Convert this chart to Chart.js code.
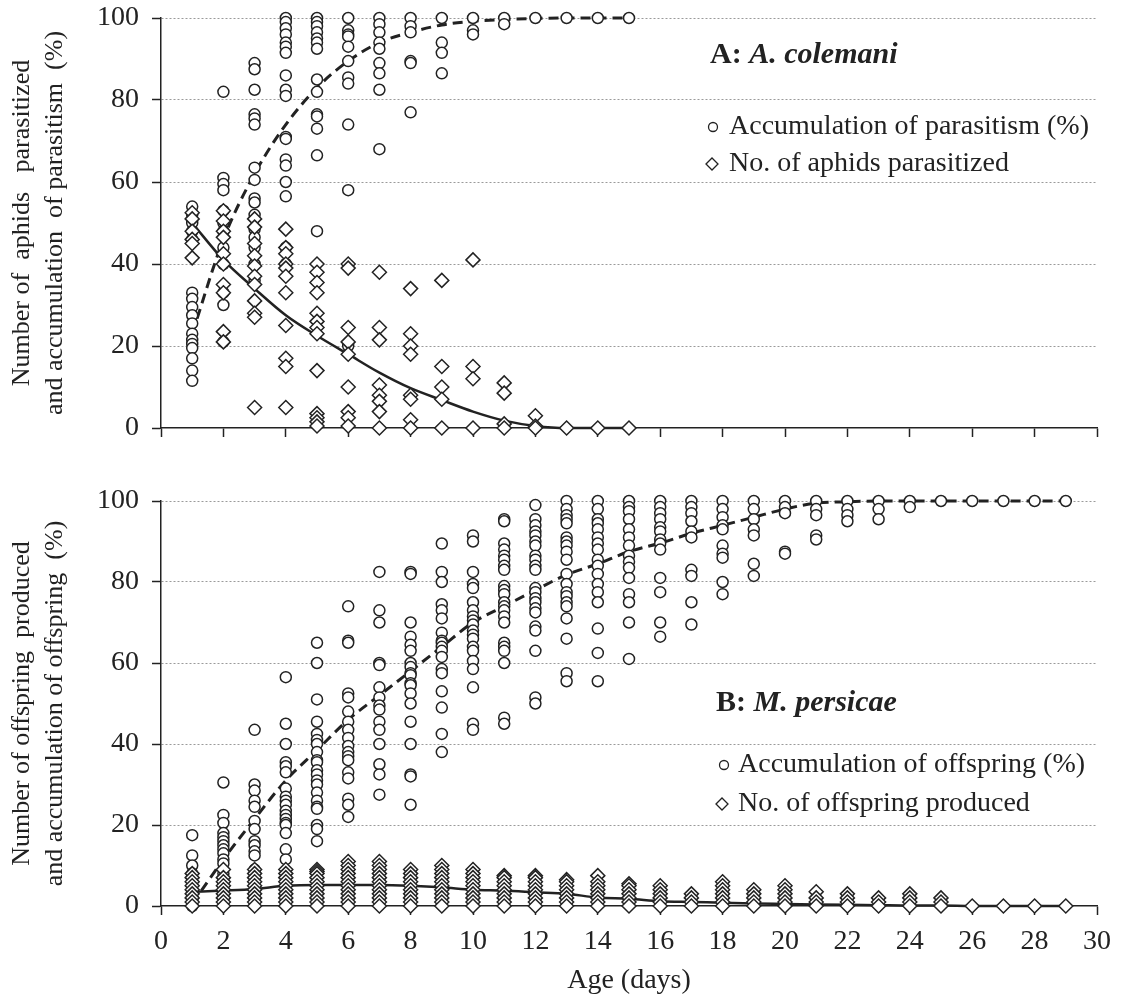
<!DOCTYPE html>
<html>
<head>
<meta charset="utf-8">
<script src="https://cdn.jsdelivr.net/npm/chart.js@4"></script>
<style>
  body { margin: 0; background: #fff; }
  .wrap { position: relative; width: 1124px; height: 998px; }
  canvas { position: absolute; left: 0; }
  #chartA { top: 0; }
  #chartB { top: 460px; }
</style>
</head>
<body>
<div class="wrap">
  <canvas id="chartA" width="1124" height="460"></canvas>
  <canvas id="chartB" width="1124" height="538"></canvas>
</div>
<script>
// panel A: A. colemani
const daysA = [1, 2, 3, 4, 5, 6, 7, 8, 9, 10, 11, 12, 13, 14, 15];
const parasitismPct = [
  [54, 52, 50, 48, 46, 33, 31.5, 29.5, 27.5, 25.5, 23, 21.5, 20.5, 19.5, 17, 14, 11.5],
  [82, 61, 59.5, 58, 53, 50, 48, 44, 40, 33, 30, 21],
  [89, 87.5, 82.5, 76.5, 75.5, 74, 63.5, 60.5, 56, 55, 52, 48.5, 46.5, 44, 40, 36],
  [100, 99, 97.5, 96, 94, 93, 91.5, 86, 82.5, 81, 71, 70.5, 65.5, 64, 60, 56.5, 44, 40],
  [100, 99, 98, 96.5, 95, 94, 92.5, 85, 82, 76.5, 76, 73, 66.5, 48],
  [100, 97, 96, 95.5, 93, 89.5, 85.5, 84, 74, 58, 20],
  [100, 98.5, 96.5, 94, 92.5, 89, 86.5, 82.5, 68],
  [100, 98, 96.5, 89.5, 89, 77],
  [100, 94, 91.5, 86.5],
  [100, 97, 96],
  [100, 98.5],
  [100], [100], [100], [100]
];
const aphidsParasitized = [
  [52.5, 51, 48, 46, 45, 41.5],
  [53, 50.5, 48, 46.5, 42.5, 40, 35, 33, 23.5, 21],
  [51, 49, 45, 42, 39.5, 37, 35, 31, 28, 27, 5],
  [48.5, 44, 42.5, 40, 39, 37, 33, 25, 17, 15, 5],
  [40, 38, 35.5, 33, 28, 26, 24.5, 23, 14, 3.5, 2.5, 1.5, 0.5],
  [40, 39, 24.5, 21, 18, 10, 4, 2.5, 0.5],
  [38, 24.5, 21.5, 10.5, 8, 6.5, 4, 0],
  [34, 23, 20, 18, 8, 7, 2, 0],
  [36, 15, 10, 7, 0],
  [41, 15, 12, 0],
  [11, 8.5, 1, 0],
  [3, 0.5, 0],
  [0], [0], [0]
];
const parasitismFit = [23, 46, 62, 74, 83, 89.5, 94, 96.5, 98.3, 99.2, 99.6, 99.9, 100, 100, 100];
const parasitizedFit = [50, 41, 34, 27.5, 22.5, 18, 13.5, 9.7, 6.8, 4, 1.8, 0.5, 0, 0, 0];

// panel B: M. persicae
const daysB = [1, 2, 3, 4, 5, 6, 7, 8, 9, 10, 11, 12, 13, 14, 15, 16, 17, 18, 19, 20, 21, 22, 23, 24, 25, 26, 27, 28, 29];
const offspringPct = [
  [17.5, 12.5, 10, 8, 6, 5, 3.5, 1.5, 0],
  [30.5, 22.5, 20.5, 18, 17, 16, 15, 14, 13, 11.5, 10.5, 8, 6],
  [43.5, 30, 28.5, 26, 24.5, 21, 19, 16, 15, 13.5, 12.5, 9],
  [56.5, 45, 40, 35.5, 34.5, 33, 29, 27, 26, 25, 23.5, 22.5, 21.5, 20.5, 20, 18, 14, 11.5],
  [65, 60, 51, 45.5, 42.5, 41, 40, 38, 36, 35.5, 33.5, 32.5, 31, 30, 28, 26, 24.5, 24, 20, 19, 16],
  [74, 65.5, 65, 52.5, 51.5, 48, 45.5, 43.5, 41.5, 39.5, 38, 37, 36, 33, 31.5, 26.5, 25, 22],
  [82.5, 73, 70, 60, 59.5, 54, 51.5, 49.5, 48.5, 45.5, 43.5, 40, 35, 32.5, 27.5],
  [82.5, 82, 70, 66.5, 64.5, 63, 60, 59, 57.5, 57, 55, 54.5, 52.5, 50, 45.5, 40, 32.5, 32, 25],
  [89.5, 82.5, 80, 74.5, 73, 71, 67.5, 65.5, 65, 64, 63, 61.5, 58.5, 57.5, 53, 49, 42.5, 38],
  [91.5, 90, 82.5, 79.5, 78.5, 75, 73, 71.5, 70.5, 69.5, 68, 67, 66, 64, 63, 60.5, 58.5, 54, 45, 43.5],
  [95.5, 95, 89.5, 88, 86.5, 85.5, 84, 83, 79, 78, 77, 75, 74, 73, 71.5, 70, 65, 64, 63, 60, 46.5, 45],
  [99, 95.5, 94, 92.5, 91.5, 90, 89, 86.5, 85.5, 84, 83, 78.5, 77.5, 76, 75, 73.5, 72.5, 69, 68, 63, 51.5, 50],
  [100, 98, 96.5, 95.5, 94.5, 91, 90, 89, 87.5, 85.5, 82, 79.5, 77.5, 76.5, 75, 74, 71, 66, 57.5, 55.5],
  [100, 98, 95.5, 94.5, 93, 91, 89.5, 88, 85.5, 84, 82, 79.5, 77.5, 75, 68.5, 62.5, 55.5],
  [100, 98.5, 97.5, 95.5, 93, 91, 89, 86.5, 85, 83.5, 81, 77, 75, 70, 61],
  [100, 98.5, 97, 95.5, 93.5, 92.5, 90.5, 89.5, 88, 81, 77.5, 70, 66.5],
  [100, 98.5, 97, 95, 92.5, 91, 83, 81.5, 75, 69.5],
  [100, 98, 96, 94, 93, 89, 87, 86, 80, 77],
  [100, 98, 95.5, 93, 91.5, 84.5, 81.5],
  [100, 98.5, 97, 87.5, 87],
  [100, 98, 96.5, 91.5, 90.5],
  [100, 98, 96.5, 95],
  [100, 98, 95.5],
  [100, 98.5],
  [100], [100], [100], [100], [100]
];
const offspringNo = [
  [8, 7, 6, 5, 4, 3, 2, 1, 0],
  [9, 7, 6, 5, 4, 3, 2, 1, 0],
  [9, 8, 7, 6, 5, 4, 3, 2, 1, 0],
  [9, 8, 7, 6, 5, 4, 3, 2, 1, 0],
  [9, 8.5, 8, 7, 6, 5, 4, 3, 2, 1, 0],
  [11, 10, 9, 8, 7, 6, 5, 4, 3, 2, 1, 0],
  [11, 10, 9, 8, 7, 6, 5, 4, 3, 2, 1, 0],
  [9, 8, 7, 6, 5, 4, 3, 2, 1, 0],
  [10, 9, 8, 7, 6, 5, 4, 3, 2, 1, 0],
  [9, 8, 7, 6, 5, 4, 3, 2, 1, 0],
  [7.5, 7, 6, 5, 4, 3, 2, 1, 0],
  [7.5, 7, 6, 5, 4, 3, 2, 1, 0],
  [6.5, 6, 5, 4, 3, 2, 1, 0],
  [7.5, 6, 5, 4, 3, 2, 1, 0],
  [5.5, 5, 4, 3, 2, 1, 0],
  [5, 4, 3, 2, 1, 0],
  [3, 2, 1, 0],
  [6, 5, 4, 3, 2, 1, 0],
  [4, 3, 2, 1, 0],
  [5, 4, 3, 2, 1, 0],
  [3.5, 2, 1, 0],
  [3, 2, 1, 0],
  [2, 1, 0],
  [3, 2, 1, 0],
  [2, 1, 0],
  [0], [0], [0], [0]
];
const offspringPctFit = [0.5, 11.5, 21.5, 31, 38.5, 46, 52, 58, 64, 70, 74, 78, 81.8, 84.5, 87.5, 89.6, 92, 94, 96, 98, 99.5, 99.8, 100, 100, 100, 100, 100, 100, 100];
const offspringNoFit = [3.5, 3.8, 4.2, 5, 5.2, 5.2, 5.2, 5, 4.6, 4, 3.8, 3.4, 3, 2.1, 1.8, 1.2, 1, 0.8, 0.6, 0.5, 0.4, 0.3, 0.2, 0.1, 0.1, 0, 0, 0, 0];

const namesA = ['Accumulation of parasitism (%)', 'No. of aphids parasitized'];
const namesB = ['Accumulation of offspring (%)', 'No. of offspring produced'];

const ink = '#222';
const serif = "'Liberation Serif', 'Times New Roman', serif";
Chart.defaults.font.family = serif;
Chart.defaults.color = ink;

const toPoints = (days, lists) => days.flatMap((d, i) => lists[i].map(v => ({x: d, y: v})));
const toCurve = (days, vals) => days.map((d, i) => ({x: d, y: vals[i]}));

const markerSet = (label, data, style, radius, order) => ({
    label: label,
    data: data,
    order: order,
    clip: false,
    showLine: false,
    pointStyle: style,
    pointRadius: radius,
    pointHoverRadius: radius,
    pointBorderWidth: 1.5,
    pointBorderColor: ink,
    pointBackgroundColor: '#fff'
});

const curveSet = (data, dash, width, order) => ({
    data: data,
    order: order,
    clip: false,
    showLine: true,
    pointRadius: 0,
    borderColor: ink,
    borderWidth: width,
    borderDash: dash,
    cubicInterpolationMode: 'monotone',
    fill: false
});

// panel tag + hand-drawn legend inside the plot
const panelText = (tag, species, x, y, rows) => ({
    id: 'panelText',
    afterDraw(chart) {
        const ctx = chart.ctx;
        ctx.save();
        ctx.fillStyle = ink;
        ctx.strokeStyle = ink;
        ctx.textBaseline = 'middle';
        ctx.font = `bold 30px ${serif}`;
        ctx.fillText(tag, x, y);
        const w = ctx.measureText(tag).width;
        ctx.font = `italic bold 30px ${serif}`;
        ctx.fillText(species, x + w, y);
        ctx.font = `28px ${serif}`;
        ctx.lineWidth = 1.3;
        rows.forEach(r => {
            ctx.beginPath();
            if (r.marker === 'circle') {
                ctx.arc(r.mx, r.y, 4.5, 0, Math.PI * 2);
            } else {
                ctx.moveTo(r.mx - 6, r.y);
                ctx.lineTo(r.mx, r.y - 6);
                ctx.lineTo(r.mx + 6, r.y);
                ctx.lineTo(r.mx, r.y + 6);
                ctx.closePath();
            }
            ctx.stroke();
            ctx.fillText(r.text, r.tx, r.y);
        });
        ctx.restore();
    }
});

const buildScales = (yTitle, showX, xHeight) => ({
    x: {
        type: 'linear', min: 0, max: 30,
        ticks: { stepSize: 2, display: showX, padding: 10, font: { size: 28 }, color: ink, maxRotation: 0, autoSkip: false },
        grid: { drawOnChartArea: false, tickLength: 9, tickWidth: 1.5, tickColor: ink },
        border: { color: ink, width: 1.5 },
        title: { display: showX, text: 'Age (days)', font: { size: 28 }, color: ink, padding: { top: 0, bottom: 1 } },
        afterFit: s => { s.height = xHeight; }
    },
    y: {
        min: 0, max: 100,
        ticks: { stepSize: 20, padding: 13, font: { size: 28 }, color: ink },
        grid: {
            color: c => (c.tick && c.tick.value === 0) ? 'rgba(0,0,0,0)' : '#9a9a9a',
            lineWidth: 1, tickLength: 9, tickWidth: 1.5, tickColor: ink
        },
        border: { color: ink, width: 1.5, dash: [2, 2] },
        title: { display: true, text: yTitle, font: { size: 26, lineHeight: 1.27 }, color: ink, padding: { top: 5.5, bottom: 0 } },
        afterFit: s => { s.width = 161; s.paddingTop = 0; s.paddingBottom = 0; }
    }
});

const createChart = (canvas, datasets, scales, padTop, plugin) => new Chart(
    document.getElementById(canvas),
    {
        type: 'scatter',
        data: { datasets: datasets },
        options: {
            responsive: false,
            animation: false,
            events: [],
            layout: { padding: { top: padTop, right: 27, bottom: 0, left: 0 } },
            plugins: { legend: { display: false }, tooltip: { enabled: false } },
            scales: scales
        },
        plugins: [plugin]
    }
);

createChart('chartA', [
    markerSet(namesA[1], toPoints(daysA, aphidsParasitized), 'rectRot', 7, 0),
    markerSet(namesA[0], toPoints(daysA, parasitismPct), 'circle', 5.5, 1),
    curveSet(toCurve(daysA, parasitizedFit), [], 2.5, 2),
    curveSet(toCurve(daysA, parasitismFit), [10, 6], 3, 3)
], buildScales(['Number of  aphids   parasitized', 'and accumulation  of parasitism  (%)'], false, 32), 18,
panelText('A: ', 'A. colemani', 710, 55, [
    { marker: 'circle', mx: 713, tx: 729, y: 127, text: namesA[0] },
    { marker: 'diamond', mx: 712, tx: 729, y: 164, text: namesA[1] }
]));

createChart('chartB', [
    markerSet(namesB[1], toPoints(daysB, offspringNo), 'rectRot', 7, 0),
    markerSet(namesB[0], toPoints(daysB, offspringPct), 'circle', 5.5, 1),
    curveSet(toCurve(daysB, offspringNoFit), [], 2.5, 2),
    curveSet(toCurve(daysB, offspringPctFit), [10, 6], 3, 3)
], buildScales(['Number of offspring  produced', 'and accumulation of offspring  (%)'], true, 92), 41,
panelText('B: ', 'M. persicae', 716, 243, [
    { marker: 'circle', mx: 724, tx: 738, y: 305, text: namesB[0] },
    { marker: 'diamond', mx: 722, tx: 738, y: 344, text: namesB[1] }
]));
</script>
</body>
</html>
